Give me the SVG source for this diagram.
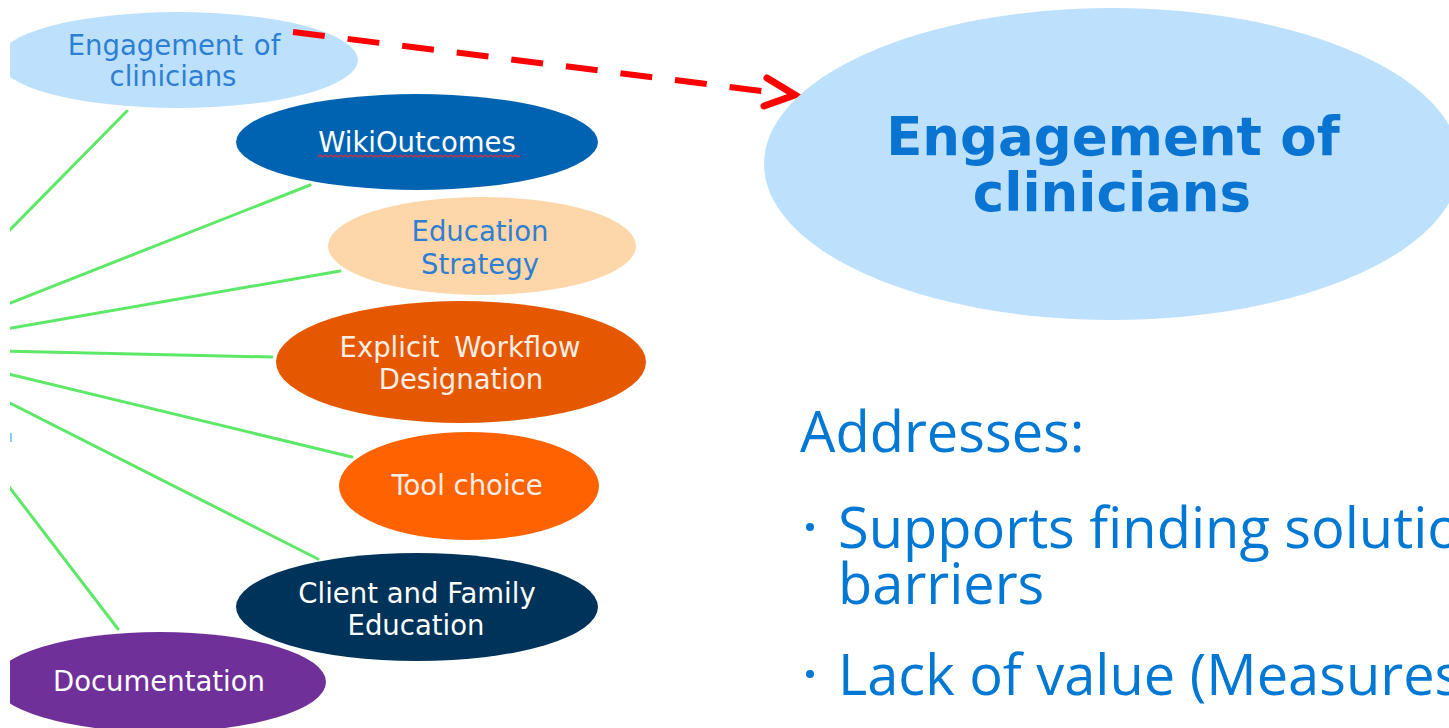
<svg xmlns="http://www.w3.org/2000/svg" width="1449" height="728" viewBox="0 0 1449 728">
<style>
.node text{font-family:"DejaVu Sans",Verdana,sans-serif;font-size:27.5px;text-anchor:middle}
.lt{fill:#2E7FD3}
.wt{fill:#FFFFFF}
.conn line{stroke:#5EE868;stroke-width:3;stroke-linecap:round}
.dash{stroke:#FF0000;stroke-width:6;fill:none;stroke-dasharray:32 23}
.head{stroke:#FF0000;stroke-width:7;fill:none;stroke-linecap:round;stroke-linejoin:miter}
.big{font-family:"DejaVu Sans",Verdana,sans-serif;font-weight:bold;font-size:53px;fill:#0A74D2;text-anchor:middle}
.body{font-family:"Open Sans","Liberation Sans",sans-serif;font-size:56px;fill:#0078D4}
</style>
<rect width="1449" height="728" fill="#FFFFFF"/>
<g id="connectors" class="conn">
  <line x1="127" y1="111" x2="0" y2="240"/>
  <line x1="310" y1="185" x2="0" y2="307"/>
  <line x1="340" y1="271" x2="0" y2="330"/>
  <line x1="272" y1="357" x2="0" y2="351"/>
  <line x1="352" y1="457" x2="0" y2="372"/>
  <line x1="318" y1="559" x2="0" y2="398"/>
  <line x1="118" y1="629" x2="0" y2="475"/>
</g>
<g id="node-engagement-small" class="node">
  <ellipse cx="178" cy="60" rx="180" ry="48" fill="#BDE1FC"/>
  <text class="lt" x="174" y="55" word-spacing="2">Engagement of</text>
  <text class="lt" x="173" y="86">clinicians</text>
</g>
<g id="node-wikioutcomes" class="node">
  <ellipse cx="417" cy="142" rx="181" ry="48" fill="#0063B1"/>
  <text class="wt" x="417" y="152">WikiOutcomes</text>
  <path d="M318,157 l2.5,-2 2.5,2 2.5,-2 2.5,2 2.5,-2 2.5,2 2.5,-2 2.5,2 2.5,-2 2.5,2 2.5,-2 2.5,2 2.5,-2 2.5,2 2.5,-2 2.5,2 2.5,-2 2.5,2 2.5,-2 2.5,2 2.5,-2 2.5,2 2.5,-2 2.5,2 2.5,-2 2.5,2 2.5,-2 2.5,2 2.5,-2 2.5,2 2.5,-2 2.5,2 2.5,-2 2.5,2 2.5,-2 2.5,2 2.5,-2 2.5,2 2.5,-2 2.5,2 2.5,-2 2.5,2 2.5,-2 2.5,2 2.5,-2 2.5,2 2.5,-2 2.5,2 2.5,-2 2.5,2 2.5,-2 2.5,2 2.5,-2 2.5,2 2.5,-2 2.5,2 2.5,-2 2.5,2 2.5,-2 2.5,2 2.5,-2 2.5,2 2.5,-2 2.5,2 2.5,-2 2.5,2 2.5,-2 2.5,2 2.5,-2 2.5,2 2.5,-2 2.5,2 2.5,-2 2.5,2 2.5,-2 2.5,2 2.5,-2 2.5,2 2.5,-2 2.5,2 2.5,-2" fill="none" stroke="#D03040" stroke-width="1.3"/>
</g>
<g id="node-education-strategy" class="node">
  <ellipse cx="482" cy="246" rx="154" ry="49" fill="#FDD6A9"/>
  <text class="lt" x="480" y="241">Education</text>
  <text class="lt" x="480" y="274">Strategy</text>
</g>
<g id="node-explicit-workflow" class="node">
  <ellipse cx="461" cy="362" rx="185" ry="61" fill="#E55800"/>
  <text x="460" y="357" word-spacing="6" fill="#FCEDE6">Explicit Workflow</text>
  <text x="461" y="389" fill="#FCEDE6">Designation</text>
</g>
<g id="node-tool-choice" class="node">
  <ellipse cx="469" cy="486" rx="130" ry="54" fill="#FF6200"/>
  <text x="467" y="495" fill="#FCEDE6">Tool choice</text>
</g>
<g id="node-client-family" class="node">
  <ellipse cx="417" cy="607" rx="181" ry="54" fill="#003359"/>
  <text class="wt" x="417" y="603" fill="#EAF0F5">Client and Family</text>
  <text class="wt" x="416" y="635">Education</text>
</g>
<g id="node-documentation" class="node">
  <ellipse cx="160" cy="682" rx="166" ry="50" fill="#70309A"/>
  <text class="wt" x="159" y="691">Documentation</text>
</g>
<rect x="0" y="0" width="10" height="728" fill="#FFFFFF"/>
<rect x="10" y="433" width="2" height="9" fill="#8EC8FF"/>
<g id="arrow">
  <line class="dash" x1="293" y1="32" x2="770" y2="92"/>
  <polyline class="head" points="767,78 795,95 764,106"/>
</g>
<g id="node-engagement-large">
  <ellipse cx="1112" cy="164" rx="348" ry="156" fill="#BDE1FC"/>
  <text class="big" x="1113" y="155">Engagement of</text>
  <text class="big" x="1112" y="211">clinicians</text>
</g>
<g id="text-addresses" class="body">
  <text x="800" y="452">Addresses:</text>
  <circle cx="810" cy="527" r="4" fill="#0078D4"/>
  <text x="838" y="548">Supports finding solutions to</text>
  <text x="838" y="604">barriers</text>
  <circle cx="810" cy="674" r="4" fill="#0078D4"/>
  <text x="838" y="695">Lack of value (Measures</text>
</g>
</svg>
